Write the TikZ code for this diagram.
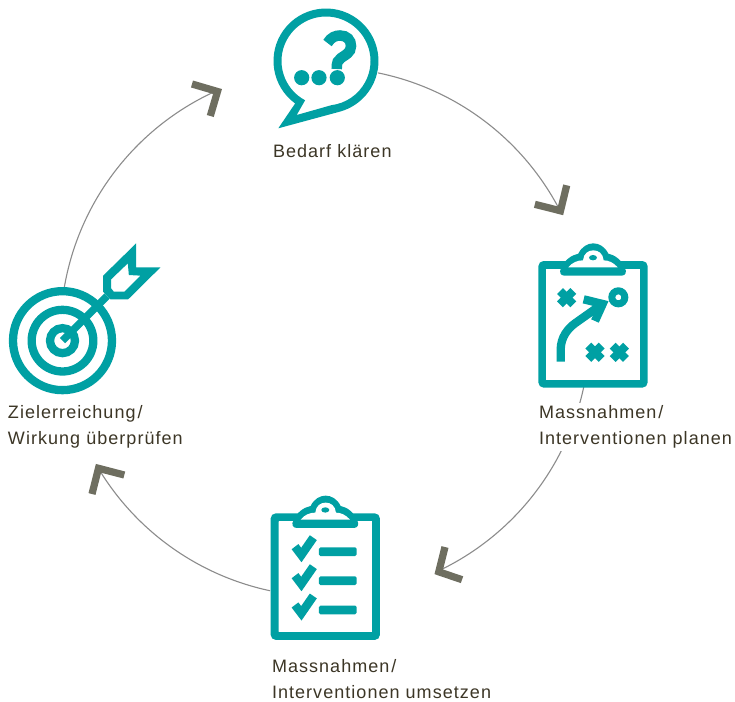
\documentclass[tikz,border=0pt]{standalone}
\usepackage{fontspec}
\usetikzlibrary{calc}
\setmainfont[LetterSpace=5.8]{Liberation Sans}
\definecolor{tealc}{HTML}{00A0A3}
\definecolor{chev}{HTML}{6E6E60}
\definecolor{lbl}{HTML}{3C3626}
\definecolor{arcc}{HTML}{8C8C8C}
\tikzset{
  solidt/.style={fill=tealc,draw=none},
  linet/.style={draw=tealc,line width=#1,fill=none},
  linet/.default=7pt,
  cycle arc/.style={draw=arcc,line width=1.1pt},
  chevron/.style={draw=chev,line width=7.2pt,line join=miter,line cap=butt,fill=none},
  lab/.style={anchor=base west,align=left,font=\fontsize{18}{25.6}\selectfont,text=lbl,inner sep=0pt,outer sep=0pt},
}
\newcommand{\clipboardshape}{%
  \draw[linet=8pt,rounded corners=2pt] (52,90) rectangle (356,446);
  \fill[white] (64,102) rectangle (344,434);
  \fill[tealc] (118,122) -- (290,122) .. controls (302,122) and (306,110) .. (300,100) .. controls (290,75) and (270,60) .. (250,56) .. controls (240,35) and (222,25) .. (205,25) .. controls (188,25) and (170,35) .. (160,56) .. controls (140,60) and (118,75) .. (108,100) .. controls (102,110) and (106,122) .. (118,122) -- cycle;
  \fill[white] (130,97) -- (278,97) .. controls (265,82) and (250,76) .. (236,76) .. controls (234,55) and (220,46) .. (205,46) .. controls (190,46) and (176,55) .. (174,76) .. controls (158,76) and (142,82) .. (130,97) -- cycle;
  \fill[tealc] (204,68) ellipse [x radius=12,y radius=8];
}
\newcommand{\crossmark}[2]{%
  \draw[linet=8.3pt] (#1-20,#2-20) -- (#1+20,#2+20);
  \draw[linet=8.3pt] (#1-20,#2+20) -- (#1+20,#2-20);
}
\newcommand{\checkrow}[1]{%
  \begin{scope}[yshift=#1]
    \draw[linet=8.5pt,line join=miter] (105,170) -- (124,195) -- (160,143);
    \fill[tealc,rounded corners=1.5pt] (177,172) rectangle (290,198);
  \end{scope}
}
\begin{document}
\begin{tikzpicture}[x=1pt,y=1pt,yscale=-1]
\useasboundingbox (0,0) rectangle (735,701);
\fill[white] (0,0) rectangle (735,701);
% cycle centre and connector ends
\coordinate (c) at (325,332);
\def\rr{264.5}
\coordinate (s1) at ($(c)+(-78.4:\rr)$);
\coordinate (s2) at ($(c)+(12:\rr)$);
\coordinate (s3) at ($(c)+(102:\rr)$);
\coordinate (s4) at ($(c)+(189.6:\rr)$);
\draw[cycle arc] (s1) arc[start angle=-78.4,end angle=-28,radius=\rr];
\draw[cycle arc] (s2) arc[start angle=12,end angle=63.6,radius=\rr];
\draw[cycle arc] (s3) arc[start angle=102,end angle=148.3,radius=\rr];
\draw[cycle arc] (s4) arc[start angle=189.6,end angle=245.1,radius=\rr];
% chevrons
\draw[chevron] (534.8,204.3) -- (560.5,210.8) -- (566.7,185.3);
\draw[chevron] (445,547) -- (438.8,571.8) -- (462,579.7);
\draw[chevron] (124.3,475) -- (98.5,468.3) -- (92,494);
\draw[chevron] (192,84) -- (217.5,91.5) -- (210.3,116);
% speech bubble
\coordinate (b) at (326,61);
\fill[tealc,even odd rule]
  ($(b)+(126:52.5)$) arc[start angle=126,delta angle=309,radius=52.5] -- (278.3,128.3) -- cycle
  ($(b)+(118:44.5)$) arc[start angle=118,delta angle=325,radius=44.5] -- (296.7,115) -- cycle;
\draw[linet=10.5pt] (327.5,43) .. controls (331,37) and (336,35.5) .. (340,35.5) .. controls (347,35.5) and (351,40) .. (351,46) .. controls (351,53) and (345,55) .. (341,58) .. controls (338,60) and (336.7,62) .. (336.7,69);
\fill[tealc] (301.7,77.7) circle[radius=7.6] (319,77.7) circle[radius=7.6] (337.3,77.7) circle[radius=7.6];
% planning clipboard
\begin{scope}[shift={(525,235)},x=0.3333pt,y=0.3333pt]
  \clipboardshape
  \crossmark{125}{188}
  \crossmark{210}{352}
  \crossmark{283}{352}
  \draw[linet=7pt] (280,187) circle[radius=19.5];
  \draw[linet=8.3pt] (107,380) -- (107,345) .. controls (107,305) and (130,280) .. (150,265) -- (225,212);
  \draw[linet=8.3pt,line join=miter] (176,193) -- (233,207) -- (210,258);
\end{scope}
% checklist clipboard
\begin{scope}[shift={(257.3,487.3)},x=0.3333pt,y=0.3333pt]
  \clipboardshape
\end{scope}
\begin{scope}[shift={(260,490)},x=0.3333pt,y=0.3333pt]
  \checkrow{0}
  \checkrow{29}
  \checkrow{58.3}
\end{scope}
% target
\begin{scope}[shift={(0.5,235)},x=0.3333pt,y=0.3333pt]
  \draw[linet=8.3pt] (186,317) circle[radius=148.5];
  \draw[linet=8.3pt] (186,317) circle[radius=92.5];
  \draw[linet=8.3pt] (186,317) circle[radius=37.5];
  \draw[linet=7.3pt] (186,317) -- (320,183);
  \fill[tealc,even odd rule] (308,122) -- (407,25) -- (407,97) -- (480,97) -- (383,193) -- (330,193) -- (308,170) -- cycle
    (332,133) -- (382,85) -- (385,120) -- (420,122) -- (372,170) -- (340,170) -- (332,160) -- cycle;
\end{scope}
% labels
\node[lab] (l1) at (273,157) {Bedarf klären};
\node[lab,fill=white,inner sep=3pt,xshift=-3pt] (l2) at (539,444.3) {Massnahmen\kern2pt/\\Interventionen planen};
\node[lab] (l3) at (272,698) {Massnahmen\kern2pt/\\Interventionen umsetzen};
\node[lab] (l4) at (8,444.5) {Zielerreichung\kern2pt/\\Wirkung überprüfen};
\end{tikzpicture}
\end{document}
